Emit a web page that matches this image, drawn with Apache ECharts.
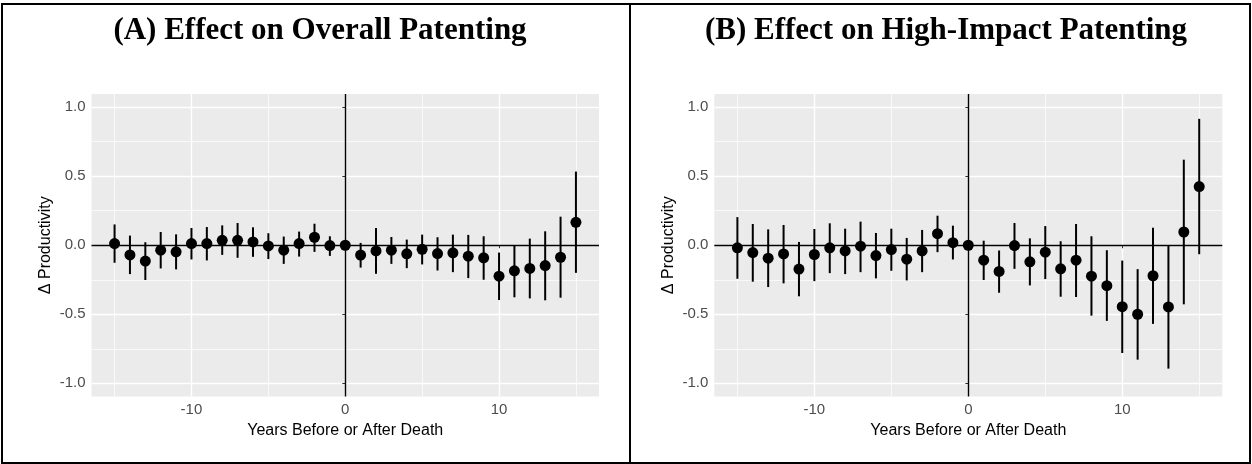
<!DOCTYPE html>
<html>
<head>
<meta charset="utf-8">
<script src="https://cdn.jsdelivr.net/npm/echarts@6/dist/echarts.min.js"></script>
<style>html,body{margin:0;padding:0;background:#fff;}#c{width:1252px;height:464px;}</style>
</head>
<body>
<div id="c"></div>
<script>
const years = [-15,-14,-13,-12,-11,-10,-9,-8,-7,-6,-5,-4,-3,-2,-1,0,1,2,3,4,5,6,7,8,9,10,11,12,13,14,15];
const titleA = "(A) Effect on Overall Patenting";
const titleB = "(B) Effect on High-Impact Patenting";
const xName = "Years Before or After Death";
const yName = "Δ Productivity";
const yTicks = [-1, -0.5, 0, 0.5, 1];
const yMinor = [-0.75, -0.25, 0.25, 0.75];
const xTicks = [-10, 0, 10];
const xMinor = [-15, -5, 5, 15];

const estA = [0.012,-0.070,-0.115,-0.036,-0.048,0.012,0.012,0.036,0.036,0.024,-0.005,-0.036,0.012,0.058,-0.002,0,-0.071,-0.041,-0.036,-0.062,-0.029,-0.060,-0.055,-0.079,-0.091,-0.224,-0.185,-0.168,-0.147,-0.087,0.166];
const hiA  = [0.151,0.070,0.022,0.096,0.079,0.125,0.132,0.144,0.161,0.130,0.087,0.063,0.099,0.156,0.065,0,0.017,0.125,0.060,0.041,0.077,0.058,0.077,0.075,0.065,-0.053,-0.002,0.048,0.101,0.207,0.534];
const loA  = [-0.127,-0.209,-0.252,-0.168,-0.175,-0.103,-0.110,-0.070,-0.091,-0.084,-0.100,-0.135,-0.082,-0.048,-0.077,0,-0.162,-0.207,-0.135,-0.166,-0.139,-0.183,-0.195,-0.238,-0.250,-0.397,-0.377,-0.385,-0.399,-0.380,-0.200];

const estB = [-0.019,-0.053,-0.094,-0.063,-0.173,-0.067,-0.019,-0.041,-0.007,-0.075,-0.031,-0.101,-0.041,0.084,0.019,0,-0.108,-0.190,-0.002,-0.120,-0.050,-0.171,-0.108,-0.224,-0.293,-0.445,-0.500,-0.221,-0.447,0.096,0.425];
const hiB  = [0.204,0.154,0.115,0.147,0.024,0.118,0.159,0.120,0.171,0.089,0.120,0.053,0.111,0.214,0.142,0,0.033,-0.038,0.161,0.050,0.139,0.029,0.154,0.065,-0.036,-0.111,-0.173,0.127,-0.002,0.620,0.916];
const loB  = [-0.243,-0.264,-0.303,-0.276,-0.370,-0.260,-0.202,-0.209,-0.195,-0.240,-0.185,-0.255,-0.195,-0.050,-0.103,0,-0.252,-0.344,-0.171,-0.291,-0.245,-0.373,-0.375,-0.510,-0.548,-0.781,-0.829,-0.570,-0.894,-0.428,-0.065];

const chart = echarts.init(document.getElementById('c'), null, {renderer: 'canvas'});
const YR = 1.096, XR = 16.5;
const tickFont = {fontFamily: 'Liberation Sans, Arial, sans-serif', fontSize: 15, color: '#4D4D4D'};
const nameFont = {fontFamily: 'Liberation Sans, Arial, sans-serif', fontSize: 16, color: '#000'};

function mkX(gi, minor) {
  return {
    type: 'value', gridIndex: gi, min: -XR, max: XR,
    position: 'bottom',
    name: minor ? '' : xName, nameLocation: 'middle', nameGap: 24, nameTextStyle: nameFont,
    axisLine: {show: false},
    axisTick: minor ? {show: false, customValues: xMinor} : {show: true, length: 3, lineStyle: {color: '#333', width: 1}, customValues: xTicks},
    axisLabel: minor ? {show: false, customValues: xMinor} : Object.assign({show: true, margin: 6, customValues: xTicks}, tickFont),
    splitLine: {show: true, lineStyle: {color: '#fff', width: minor ? 0.7 : 1.4}}
  };
}
function mkY(gi, minor) {
  return {
    type: 'value', gridIndex: gi, min: -YR, max: YR,
    position: 'left',
    name: minor ? '' : yName, nameLocation: 'middle', nameGap: 38, nameTextStyle: nameFont,
    axisLine: {show: false},
    axisTick: minor ? {show: false, customValues: yMinor} : {show: true, length: 3, lineStyle: {color: '#333', width: 1}, customValues: yTicks},
    axisLabel: minor ? {show: false, customValues: yMinor} : Object.assign({show: true, margin: 6, customValues: yTicks, formatter: v => v.toFixed(1)}, tickFont),
    splitLine: {show: true, lineStyle: {color: '#fff', width: minor ? 0.7 : 1.4}}
  };
}

function errSeries(xi, yi, lo, hi) {
  return {
    type: 'custom', xAxisIndex: xi, yAxisIndex: yi, z: 3,
    data: years.map((y, i) => [y, lo[i], hi[i]]),
    renderItem: function (params, api) {
      const p1 = api.coord([api.value(0), api.value(1)]);
      const p2 = api.coord([api.value(0), api.value(2)]);
      return {type: 'line', shape: {x1: p1[0], y1: p1[1], x2: p2[0], y2: p2[1]}, style: {stroke: '#000', lineWidth: 2}};
    }
  };
}
function ptSeries(xi, yi, est) {
  return {
    type: 'scatter', xAxisIndex: xi, yAxisIndex: yi, z: 4,
    symbol: 'circle', symbolSize: 11, itemStyle: {color: '#000', opacity: 1},
    data: years.map((y, i) => [y, est[i]]),
    markLine: {
      silent: true, symbol: 'none', label: {show: false}, animation: false,
      lineStyle: {color: '#000', width: 1.4, type: 'solid', opacity: 1},
      data: [{xAxis: 0}, {yAxis: 0}]
    }
  };
}

const option = {
  animation: false,
  backgroundColor: '#fff',
  title: [
    {text: titleA, left: 315, top: 10, textAlign: 'center', textStyle: {fontFamily: 'Liberation Serif, Times New Roman, serif', fontWeight: 'bold', fontSize: 31, color: '#000'}},
    {text: titleB, left: 941, top: 10, textAlign: 'center', textStyle: {fontFamily: 'Liberation Serif, Times New Roman, serif', fontWeight: 'bold', fontSize: 31, color: '#000'}}
  ],
  grid: [
    {left: 91.5, top: 94, width: 507.5, height: 302.5, show: true, backgroundColor: '#EBEBEB', borderWidth: 0},
    {left: 714.3, top: 94, width: 508, height: 302.5, show: true, backgroundColor: '#EBEBEB', borderWidth: 0}
  ],
  xAxis: [mkX(0, true), mkX(0, false), mkX(1, true), mkX(1, false)],
  yAxis: [mkY(0, true), mkY(0, false), mkY(1, true), mkY(1, false)],
  series: [
    errSeries(1, 1, loA, hiA), ptSeries(1, 1, estA),
    errSeries(3, 3, loB, hiB), ptSeries(3, 3, estB)
  ],
  graphic: [
    {type: 'rect', z: 100, shape: {x: 2, y: 4, width: 1248, height: 459}, style: {fill: 'none', stroke: '#000', lineWidth: 2}},
    {type: 'line', z: 100, shape: {x1: 630, y1: 4, x2: 630, y2: 464}, style: {stroke: '#000', lineWidth: 2}}
  ]
};
chart.setOption(option);
</script>
</body>
</html>
